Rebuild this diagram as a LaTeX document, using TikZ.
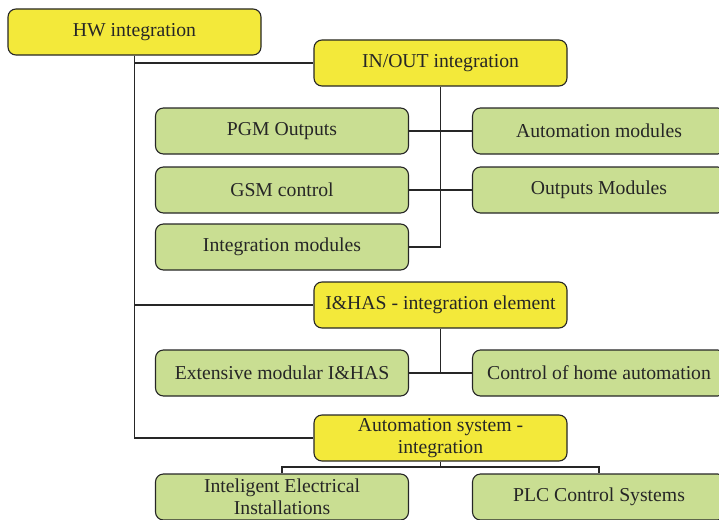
\documentclass[tikz,border=0pt]{standalone}
\usepackage{fontspec}
\setmainfont{Liberation Serif}
\begin{document}
\begin{tikzpicture}[x=1pt,y=-1pt,
  box/.style={draw=black!85, line width=1.1pt, rounded corners=8pt, minimum width=253pt, minimum height=46pt, inner sep=0pt, align=center, text=black!85, font=\fontsize{19.7}{22}\selectfont},
  ybox/.style={box, fill=yellowc},
  gbox/.style={box, fill=greenc},
  conn/.style={draw=black!85, line width=1.1pt}]
\definecolor{yellowc}{HTML}{F3E93A}
\definecolor{greenc}{HTML}{C9DE92}
\useasboundingbox (0,0) rectangle (719,519);
\clip (0,0) rectangle (719,519);
\node[ybox] (HW) at (134.5,32) {HW integration};
\node[ybox] (IO) at (440.5,63) {IN/OUT integration};
\node[gbox] (PGM) at (282,131) {PGM Outputs};
\node[gbox] (AM) at (599,131) {Automation modules};
\node[gbox] (GSM) at (282,190) {GSM control};
\node[gbox] (OM) at (599,190) {Outputs Modules};
\node[gbox] (IM) at (282,247) {Integration modules};
\node[ybox] (IH) at (440.5,305) {I\&HAS - integration element};
\node[gbox] (EM) at (282,373) {Extensive modular I\&HAS};
\node[gbox] (CH) at (599,373) {Control of home automation};
\node[ybox] (AS) at (440.5,438) {Automation system -\\integration};
\node[gbox] (IE) at (282,497) {Inteligent Electrical\\Installations};
\node[gbox] (PLC) at (599,497) {PLC Control Systems};
\coordinate (bus) at (440.5,467);
\draw[conn] (HW.south) |- (IO.west);
\draw[conn] (HW.south) |- (IH.west);
\draw[conn] (HW.south) |- (AS.west);
\draw[conn] (IO.south) |- (IM.east);
\draw[conn] (PGM.east) -- (AM.west);
\draw[conn] (GSM.east) -- (OM.west);
\draw[conn] (IH.south) -- (IH.south |- EM.east);
\draw[conn] (EM.east) -- (CH.west);
\draw[conn] (AS.south) -- (bus);
\draw[conn] (IE.north) |- (bus) -| (PLC.north);
\end{tikzpicture}
\end{document}
